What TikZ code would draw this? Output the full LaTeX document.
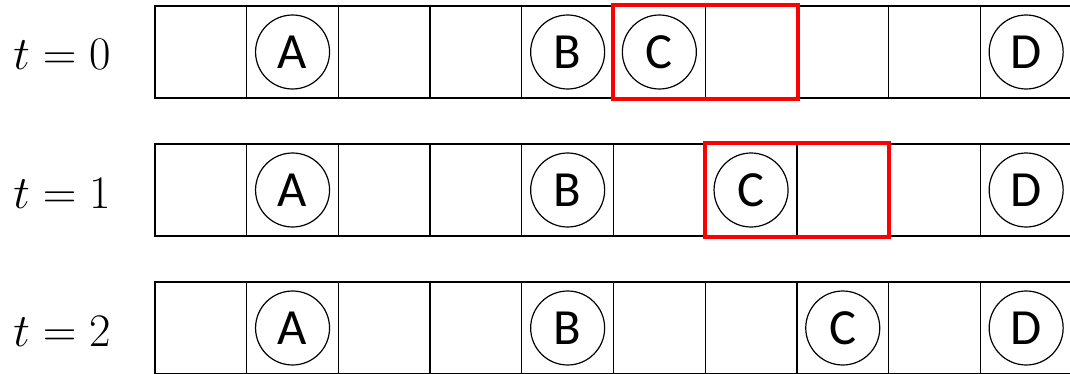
\documentclass[tikz,border=0pt]{standalone}
\usepackage{fix-cm}
\usepackage{fontspec}
\usetikzlibrary{positioning,calc}
\newfontfamily\tokenfont{Carlito}
\definecolor{winRed}{HTML}{FF0000}

\begin{document}
\begin{tikzpicture}[x=0.75pt,y=-0.75pt,
  cellbox/.style={draw, line width=1pt, minimum width=68.78pt, minimum height=69pt, inner sep=0pt},
  token/.style={circle, draw, line width=0.9pt, minimum size=55.5pt, inner sep=0pt, font=\tokenfont\fontsize{38}{40}\selectfont},
  window/.style={draw=winRed, line width=3pt},
  steplabel/.style={anchor=base, font=\fontsize{35}{40}\selectfont}]
  \useasboundingbox (0,0) rectangle (1070,374);
  % one tape per time step, C moves one cell right
  \foreach \r/\y/\cpos in {0/52/5, 1/190/6, 2/328/7} {
    \node[steplabel] (t-\r) at (62,\y+18) {$t=\r$};
    \foreach \i in {0,...,9}
      \node[cellbox] (c-\r-\i) at (155+91.7*\i+45.85,\y) {};
    \node[token] (tok-\r-a) at (c-\r-1) {A};
    \node[token] (tok-\r-b) at (c-\r-4) {B};
    \node[token] (tok-\r-c) at (c-\r-\cpos) {C};
    \node[token] (tok-\r-d) at (c-\r-9) {D};
  }
  % moving window
  \draw[window] (c-0-5.north west) rectangle (c-0-6.south east);
  \draw[window] (c-1-6.north west) rectangle (c-1-7.south east);
\end{tikzpicture}
\end{document}
